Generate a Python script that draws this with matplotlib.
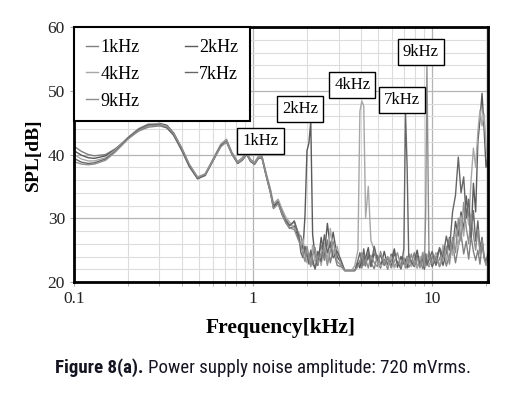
import numpy as np
import matplotlib
matplotlib.use("Agg")
import matplotlib.pyplot as plt
from matplotlib.ticker import FixedLocator, NullFormatter

plt.rcParams['font.family'] = ['Liberation Serif', 'DejaVu Serif']

# shared frequency points [kHz]
freq_low = [0.10, 0.11, 0.12, 0.13, 0.15, 0.17, 0.20, 0.23, 0.26, 0.30,
            0.33, 0.36, 0.40, 0.44, 0.49, 0.54, 0.60, 0.66, 0.71, 0.76,
            0.82, 0.87, 0.92, 0.97, 1.02, 1.07, 1.12, 1.18, 1.25, 1.30,
            1.38, 1.45, 1.52, 1.60, 1.70, 1.80]
freq_hi = [1.85, 1.90, 1.95, 2.00, 2.05, 2.10, 2.15, 2.22, 2.30, 2.40,
           2.50, 2.60, 2.70, 2.80, 2.95, 3.10, 3.25, 3.40, 3.55, 3.70,
           3.85, 3.95, 4.05, 4.15, 4.25, 4.40, 4.55, 4.75, 4.95, 5.15,
           5.40, 5.65, 5.90, 6.15, 6.40, 6.70, 6.95, 7.10, 7.25, 7.40,
           7.65, 7.95, 8.25, 8.55, 8.85, 9.05, 9.20, 9.35, 9.60, 10.0,
           10.5, 11.0, 11.5, 12.0, 12.5, 13.0, 13.5, 14.0, 14.5, 15.0,
           15.5, 16.0, 16.5, 17.0, 17.5, 18.0, 18.5, 19.0, 19.5, 20.0, 20.5]

# SPL [dB]
spl_1k_low = [41.3, 40.5, 40.0, 39.8, 40.0, 40.9, 42.5, 43.7, 44.3, 44.5,
              44.2, 43.0, 40.6, 38.1, 36.2, 36.9, 39.4, 41.6, 42.4, 40.4,
              38.9, 39.5, 40.4, 39.2, 38.8, 39.7, 39.8, 37.2, 34.4, 32.0,
              32.8, 31.2, 30.0, 28.9, 29.4, 27.5]
spl_1k_hi = [27.2, 25.6, 24.8, 24.0, 23.2, 24.6, 22.8, 22.2, 23.6, 25.8,
             23.4, 26.6, 23.0, 25.0, 22.6, 22.4, 21.8, 21.8, 21.8, 21.8,
             22.6, 23.4, 22.2, 24.0, 22.5, 24.6, 23.0, 22.1, 24.2, 22.8,
             23.6, 22.0, 24.4, 22.4, 23.2, 22.0, 23.8, 22.6, 24.0, 22.3,
             23.0, 24.6, 22.2, 23.5, 22.1, 24.8, 22.6, 23.3, 22.4, 24.0,
             22.8, 23.6, 25.0, 22.5, 24.2, 26.0, 23.0, 25.6, 27.6, 24.4,
             26.4, 23.6, 27.2, 24.8, 23.4, 25.0, 22.8, 26.0, 23.8, 23.0, 23.6]

spl_2k_low = [40.6, 39.9, 39.5, 39.4, 39.8, 40.8, 42.6, 43.9, 44.6, 44.9,
              44.6, 43.4, 41.0, 38.4, 36.4, 36.8, 39.1, 41.3, 42.0, 40.1,
              38.6, 39.1, 40.0, 38.9, 38.5, 39.4, 39.5, 36.8, 34.0, 31.6,
              32.4, 30.6, 29.4, 28.4, 28.8, 26.6]
spl_2k_hi = [26.0, 25.2, 30.5, 40.6, 41.8, 45.2, 27.5, 24.0, 22.6, 27.0,
             24.2, 29.2, 25.4, 27.8, 24.0, 23.0, 21.8, 21.8, 21.8, 21.8,
             23.0, 22.2, 24.4, 22.6, 23.8, 25.4, 22.4, 24.6, 23.2, 22.2,
             24.8, 22.6, 23.4, 25.2, 22.3, 24.0, 22.8, 23.6, 22.2, 24.4,
             22.6, 23.2, 25.0, 22.4, 24.2, 22.0, 23.4, 22.6, 24.8, 22.4,
             23.8, 25.2, 22.6, 24.6, 27.0, 25.0, 29.5, 27.2, 31.0, 28.0,
             33.5, 30.0, 27.0, 35.5, 31.0, 42.0, 45.5, 49.6, 44.0, 38.0, 40.0]

spl_4k_low = [40.0, 39.3, 39.0, 39.0, 39.5, 40.7, 42.7, 44.1, 44.8, 44.8,
              44.4, 43.2, 40.9, 38.4, 36.5, 37.0, 39.3, 41.5, 42.3, 40.3,
              38.8, 39.4, 40.3, 39.1, 38.7, 39.6, 39.7, 37.1, 34.6, 32.3,
              33.0, 31.5, 30.2, 29.4, 28.4, 27.8]
spl_4k_hi = [25.4, 26.8, 24.2, 23.0, 24.6, 22.6, 25.8, 23.2, 24.8, 22.6,
             26.2, 23.4, 28.4, 24.6, 25.6, 22.8, 21.8, 21.8, 21.8, 22.6,
             25.0, 46.8, 48.4, 47.6, 30.0, 35.0, 26.5, 25.0, 23.0, 22.4,
             23.2, 22.4, 24.0, 22.2, 23.0, 22.6, 23.6, 22.4, 23.0, 24.2,
             22.4, 23.4, 22.2, 24.0, 22.6, 23.0, 22.4, 24.4, 22.6, 23.2,
             24.6, 22.4, 25.8, 23.2, 26.8, 24.2, 28.0, 25.4, 30.4, 27.2,
             31.6, 29.0, 36.0, 41.0, 38.0, 43.6, 47.0, 44.5, 46.4, 41.5, 38.0]

spl_7k_low = [39.4, 38.8, 38.6, 38.7, 39.3, 40.5, 42.6, 44.0, 44.7, 44.7,
              44.2, 43.1, 40.7, 38.2, 36.2, 36.7, 39.2, 41.4, 42.1, 40.2,
              38.6, 39.2, 40.1, 38.9, 38.5, 39.4, 39.6, 36.9, 34.2, 31.9,
              32.5, 30.8, 29.6, 28.8, 29.6, 27.2]
spl_7k_hi = [24.6, 23.8, 25.6, 24.4, 22.8, 25.0, 23.6, 22.0, 24.8, 23.2,
             27.4, 24.6, 26.0, 23.8, 24.8, 23.4, 21.8, 21.8, 21.8, 21.8,
             23.4, 24.6, 22.8, 25.2, 23.0, 24.0, 22.6, 25.6, 23.4, 24.2,
             22.6, 23.8, 22.4, 24.6, 23.0, 22.2, 25.2, 46.6, 38.0, 24.0,
             23.2, 22.4, 24.2, 22.8, 23.6, 22.2, 24.4, 22.8, 23.4, 24.8,
             22.6, 25.4, 23.8, 27.2, 25.0, 31.0, 33.6, 39.6, 34.0, 36.5,
             30.0, 33.0, 27.5, 31.2, 26.4, 29.6, 25.2, 27.0, 24.0, 23.2, 24.6]

spl_9k_low = [38.9, 38.5, 38.4, 38.5, 39.1, 40.4, 42.4, 43.8, 44.5, 44.6,
              44.4, 43.3, 41.0, 38.5, 36.4, 36.9, 39.2, 41.2, 42.0, 40.2,
              38.7, 39.2, 40.1, 39.0, 38.6, 39.5, 39.6, 36.8, 34.0, 31.5,
              32.3, 30.7, 29.3, 28.5, 28.2, 26.4]
spl_9k_hi = [25.8, 24.4, 23.2, 25.6, 24.0, 22.4, 24.2, 25.4, 22.8, 24.6,
             25.2, 22.6, 24.8, 26.4, 23.2, 22.6, 21.8, 21.8, 21.8, 21.8,
             22.4, 23.0, 24.6, 22.6, 23.6, 22.2, 24.2, 23.0, 22.4, 24.8,
             22.8, 24.0, 22.2, 23.2, 24.6, 22.4, 23.6, 22.2, 24.0, 22.8,
             24.4, 22.6, 23.8, 22.2, 24.6, 22.4, 31.0, 53.8, 24.2, 22.8,
             24.0, 22.4, 23.6, 25.6, 22.8, 27.0, 24.6, 30.0, 26.4, 32.5,
             28.5, 26.0, 30.6, 27.4, 25.0, 28.2, 24.4, 26.6, 23.8, 22.6, 24.0]

series_names = ['1kHz', '2kHz', '4kHz', '7kHz', '9kHz']
series_low = [spl_1k_low, spl_2k_low, spl_4k_low, spl_7k_low, spl_9k_low]
series_hi = [spl_1k_hi, spl_2k_hi, spl_4k_hi, spl_7k_hi, spl_9k_hi]
colors = ['#808080', '#5a5a5a', '#a8a8a8', '#666666', '#8e8e8e']

# peak labels (text, x, y)
box_labels = [('1kHz', 1.10, 42.1), ('2kHz', 1.84, 47.2), ('4kHz', 3.58, 50.9),
              ('7kHz', 6.76, 48.6), ('9kHz', 8.63, 56.1)]

fig = plt.figure(figsize=(5.26, 3.97), dpi=100)
ax = fig.add_axes([0.1407, 0.2897, 0.787, 0.642])

freq_all = freq_low + freq_hi
lines = []
for name, lo, hi, c in zip(series_names, series_low, series_hi, colors):
    ln, = ax.plot(freq_all, lo + hi, color=c, lw=1.0, label=name)
    lines.append(ln)

ax.set_xscale('log')
ax.set_xlim(0.1, 20.5)
ax.set_ylim(20, 60)
ax.set_xticks([0.1, 1, 10])
ax.set_xticklabels(['0.1', '1', '10'])
minor_x = [m * d for d in [0.1, 1, 10] for m in range(2, 10) if m * d < 20.5]
ax.xaxis.set_minor_locator(FixedLocator(minor_x))
ax.xaxis.set_minor_formatter(NullFormatter())
ax.set_yticks([20, 30, 40, 50, 60])
ax.yaxis.set_minor_locator(FixedLocator(np.arange(20, 61, 2)))

ax.grid(True, which='major', color='#b4b4b4', lw=0.9)
ax.grid(True, which='minor', color='#dcdcdc', lw=0.8)
ax.set_axisbelow(True)
ax.tick_params(which='both', direction='out', length=3, color='#aaaaaa',
               labelsize=12.5, labelcolor='#222222')
ax.tick_params(axis='x', which='minor', length=3)
ax.tick_params(axis='y', which='minor', length=0)
for sp in ax.spines.values():
    sp.set_color('black')
    sp.set_linewidth(2)

ax.set_xlabel('Frequency[kHz]', fontsize=15.5, fontweight='bold', labelpad=8)
ax.set_ylabel('SPL[dB]', fontsize=14, fontweight='bold', labelpad=4)

for txt, fx, fy in box_labels:
    ax.text(fx, fy, txt, fontsize=12, ha='center', va='center', zorder=5,
            bbox=dict(boxstyle='square,pad=0.3', fc='white', ec='black', lw=1))

order = [0, 2, 4, 1, 3]
leg = ax.legend([lines[i] for i in order], [series_names[i] for i in order],
                ncol=2, loc='upper left', bbox_to_anchor=(0, 1), borderaxespad=0,
                fontsize=13, handlelength=0.7, handletextpad=0.1,
                columnspacing=2.5, labelspacing=0.55, borderpad=0.65,
                fancybox=False, framealpha=1, edgecolor='black')
leg.get_frame().set_linewidth(1.5)
leg.set_zorder(6)

# caption below the chart, two parts (bold + regular), sized to the reference width
cap_font = ['Roboto Condensed', 'Liberation Sans Narrow', 'Liberation Sans', 'DejaVu Sans']
cap_y = 0.073
cap_size = 14
t1 = fig.text(0, cap_y, 'Figure 8(a).', family=cap_font, fontsize=cap_size,
              fontweight='bold', color='#151522', va='center')
t2 = fig.text(0, cap_y, 'Power supply noise amplitude: 720 mVrms.',
              family=cap_font, fontsize=cap_size, color='#151522', va='center')
fig.canvas.draw()
r = fig.canvas.get_renderer()
w = t1.get_window_extent(r).width + t2.get_window_extent(r).width + 5
cap_size = cap_size * 419 / w
t1.set_fontsize(cap_size)
t2.set_fontsize(cap_size)
fig.canvas.draw()
w1 = t1.get_window_extent(r).width
w2 = t2.get_window_extent(r).width
gap = 0.3 * cap_size
x0 = 263 - (w1 + gap + w2) / 2
t1.set_x(x0 / fig.bbox.width)
t2.set_x((x0 + w1 + gap) / fig.bbox.width)

fig.savefig('out.png', dpi=100)
